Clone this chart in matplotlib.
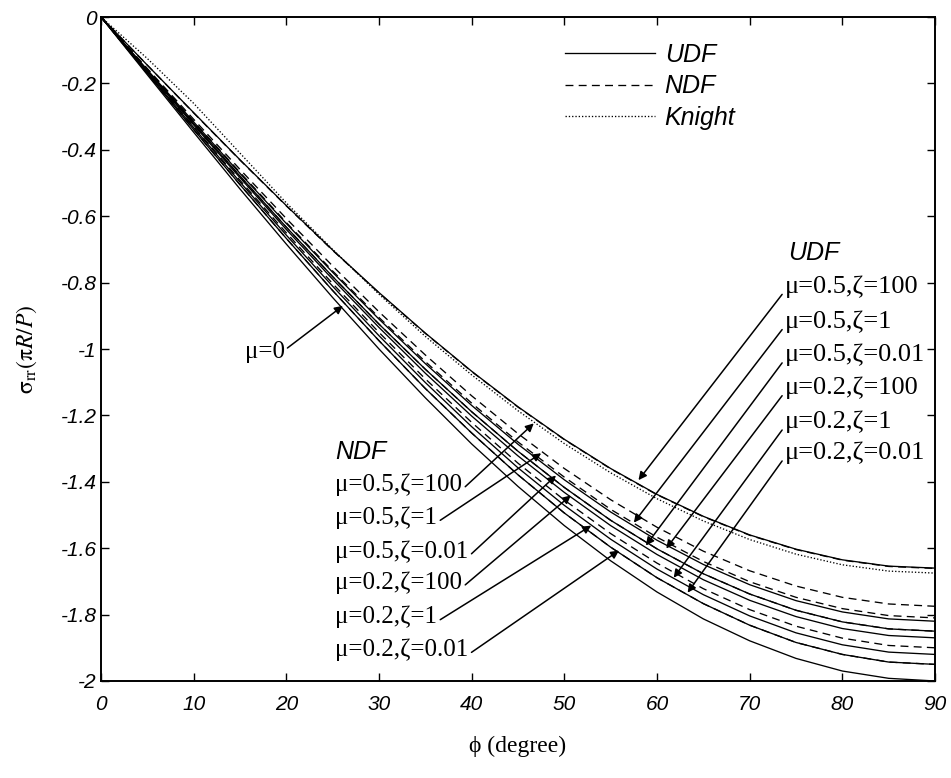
import matplotlib
matplotlib.use("Agg")
import matplotlib.pyplot as plt

plt.rcParams['mathtext.fontset'] = 'stix'

phi = [0, 5, 10, 15, 20, 25, 30, 35, 40, 45, 50, 55, 60, 65, 70, 75, 80, 85, 90]

mu0 = [0, -0.174, -0.347, -0.518, -0.684, -0.845, -1.0, -1.147, -1.286, -1.414,
       -1.532, -1.638, -1.732, -1.813, -1.879, -1.932, -1.970, -1.992, -2.0]

udf_05_100 = [0, -0.145, -0.288, -0.430, -0.568, -0.702, -0.830, -0.952, -1.067, -1.174,
              -1.272, -1.360, -1.438, -1.504, -1.560, -1.603, -1.635, -1.654, -1.66]
udf_05_1 = [0, -0.159, -0.316, -0.471, -0.622, -0.769, -0.910, -1.044, -1.170, -1.287,
            -1.394, -1.491, -1.576, -1.649, -1.710, -1.758, -1.792, -1.813, -1.82]
udf_05_001 = [0, -0.161, -0.321, -0.479, -0.633, -0.782, -0.925, -1.061, -1.189, -1.308,
              -1.417, -1.516, -1.602, -1.677, -1.738, -1.787, -1.822, -1.843, -1.85]
udf_02_100 = [0, -0.163, -0.325, -0.484, -0.640, -0.790, -0.935, -1.073, -1.202, -1.322,
              -1.432, -1.532, -1.619, -1.695, -1.757, -1.806, -1.842, -1.863, -1.87]
udf_02_1 = [0, -0.167, -0.333, -0.497, -0.657, -0.811, -0.960, -1.101, -1.234, -1.358,
            -1.471, -1.573, -1.663, -1.740, -1.804, -1.855, -1.891, -1.913, -1.92]
udf_02_001 = [0, -0.170, -0.339, -0.505, -0.667, -0.824, -0.975, -1.119, -1.253, -1.379,
              -1.494, -1.597, -1.689, -1.767, -1.832, -1.884, -1.920, -1.943, -1.95]

ndf_05_100 = [0, -0.145, -0.289, -0.431, -0.569, -0.703, -0.831, -0.953, -1.068, -1.175,
              -1.273, -1.361, -1.439, -1.505, -1.561, -1.604, -1.636, -1.655, -1.661]
ndf_05_1 = [0, -0.155, -0.308, -0.459, -0.607, -0.750, -0.888, -1.018, -1.141, -1.255,
            -1.360, -1.454, -1.537, -1.609, -1.668, -1.714, -1.748, -1.768, -1.775]
ndf_05_001 = [0, -0.158, -0.314, -0.468, -0.619, -0.765, -0.905, -1.038, -1.163, -1.280,
              -1.386, -1.483, -1.567, -1.640, -1.701, -1.748, -1.782, -1.803, -1.81]
ndf_02_100 = [0, -0.161, -0.321, -0.479, -0.633, -0.782, -0.925, -1.061, -1.189, -1.308,
              -1.417, -1.516, -1.602, -1.677, -1.738, -1.787, -1.822, -1.843, -1.85]
ndf_02_1 = [0, -0.166, -0.330, -0.492, -0.650, -0.803, -0.950, -1.090, -1.221, -1.344,
            -1.455, -1.556, -1.645, -1.722, -1.785, -1.835, -1.871, -1.893, -1.90]
ndf_02_001 = [0, -0.170, -0.339, -0.505, -0.667, -0.824, -0.975, -1.119, -1.253, -1.379,
              -1.494, -1.597, -1.689, -1.767, -1.832, -1.884, -1.920, -1.943, -1.95]

knight = [0, -0.125, -0.26, -0.41, -0.56, -0.70, -0.835, -0.962, -1.078, -1.186,
          -1.285, -1.373, -1.451, -1.518, -1.574, -1.618, -1.650, -1.669, -1.675]

udf_labels = ["μ=0.5,ζ=100", "μ=0.5,ζ=1", "μ=0.5,ζ=0.01",
              "μ=0.2,ζ=100", "μ=0.2,ζ=1", "μ=0.2,ζ=0.01"]
ndf_labels = udf_labels
legend_labels = ["UDF", "NDF", "Knight"]

xticks = [0, 10, 20, 30, 40, 50, 60, 70, 80, 90]
yticks = [0, -0.2, -0.4, -0.6, -0.8, -1, -1.2, -1.4, -1.6, -1.8, -2]
ytick_labels = ["0", "-0.2", "-0.4", "-0.6", "-0.8", "-1", "-1.2", "-1.4", "-1.6", "-1.8", "-2"]

fig = plt.figure(figsize=(9.51, 7.78), dpi=100)
ax = fig.add_axes([0.1062, 0.1247, 0.8770, 0.8534])

lw = 0.95
udf = [udf_05_100, udf_05_1, udf_05_001, udf_02_100, udf_02_1, udf_02_001]
ndf = [ndf_05_100, ndf_05_1, ndf_05_001, ndf_02_100, ndf_02_1, ndf_02_001]

h_ndf = None
for i, s in enumerate(ndf):
    l, = ax.plot(phi, s, color='black', lw=lw, ls=(0, (6, 4)))
    if i == 0:
        h_ndf = l
h_kn, = ax.plot(phi, knight, color='black', lw=lw, ls=(0, (1, 1.5)))
h_udf = None
for i, s in enumerate(udf):
    l, = ax.plot(phi, s, color='black', lw=lw, ls='-')
    if i == 0:
        h_udf = l
ax.plot(phi, mu0, color='black', lw=lw, ls='-')

ax.set_xlim(0, 90)
ax.set_ylim(-2, 0)
ax.set_xticks(xticks)
ax.set_xticklabels([str(t) for t in xticks])
ax.set_yticks(yticks)
ax.set_yticklabels(ytick_labels)
for lab in ax.get_xticklabels() + ax.get_yticklabels():
    lab.set_fontfamily('Liberation Sans')
    lab.set_fontstyle('italic')
    lab.set_fontsize(15)
ax.tick_params(direction='in', length=6, width=1, top=True, right=True)
ax.tick_params(axis='x', pad=10)
ax.tick_params(axis='y', pad=3)
for sp in ax.spines.values():
    sp.set_linewidth(1.4)

leg = ax.legend([h_udf, h_ndf, h_kn], legend_labels, loc='upper left',
                bbox_to_anchor=(0.529, 0.995), frameon=False, handlelength=3.6,
                handletextpad=0.4, labelspacing=0.3,
                prop=dict(family='Liberation Sans', style='italic', size=18))

# annotations
ital = dict(family='Liberation Sans', style='italic', size=18)
ap = dict(arrowstyle='-|>', color='black', lw=1.1, mutation_scale=12, shrinkA=0, shrinkB=0)

ax.text(74.2, -0.71, "UDF", fontdict=ital, va='center', ha='left')
udf_text_y = [-0.811, -0.917, -1.017, -1.116, -1.219, -1.312]
udf_tips = [(58.0, -1.395), (57.5, -1.523), (58.8, -1.592), (61.0, -1.601), (61.8, -1.689), (63.3, -1.734)]
for lab, ty, tip in zip(udf_labels, udf_text_y, udf_tips):
    ax.annotate(lab, xy=tip, xytext=(73.8, ty), fontsize=19, family='Liberation Serif',
                va='center', ha='left', arrowprops=dict(ap, relpos=(0.0, 0.3)))

ax.text(25.3, -1.31, "NDF", fontdict=ital, va='center', ha='left')
ndf_text_y = [-1.409, -1.508, -1.611, -1.704, -1.807, -1.906]
ndf_tips = [(46.7, -1.224), (47.5, -1.314), (49.1, -1.381), (50.7, -1.441), (52.9, -1.532), (55.9, -1.607)]
for lab, ty, tip in zip(ndf_labels, ndf_text_y, ndf_tips):
    ax.annotate(lab, xy=tip, xytext=(25.3, ty), fontsize=18, family='Liberation Serif',
                va='center', ha='left', arrowprops=dict(ap, relpos=(1.0, 0.3)))

ax.annotate("μ=0", xy=(26.1, -0.870), xytext=(15.5, -1.01), fontsize=18,
            family='Liberation Serif', va='center', ha='left',
            arrowprops=dict(ap, relpos=(1.0, 0.6)))

ax.set_xlabel("ϕ (degree)", fontsize=17, family=['Liberation Serif', 'DejaVu Serif'], labelpad=16)
ax.set_ylabel(r'$\mathrm{\sigma}_{\mathrm{rr}}(\mathrm{\pi} R/P)$', fontsize=17, labelpad=16)

fig.savefig('out.png', dpi=100)
